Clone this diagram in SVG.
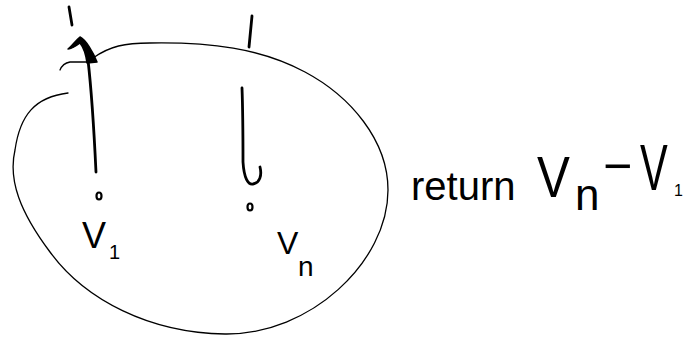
<svg xmlns="http://www.w3.org/2000/svg" width="692" height="339" viewBox="0 0 692 339">
<style>
.thin{fill:none;stroke:#000;stroke-width:1.3;stroke-linecap:round;stroke-linejoin:round}
.pen{fill:none;stroke:#000;stroke-width:2.8;stroke-linecap:round;stroke-linejoin:round}
.dot{fill:#fff;stroke:#000;stroke-width:2.2}
.t{font-family:"Liberation Sans","DejaVu Sans",sans-serif;fill:#000}
</style>
<rect width="692" height="339" fill="#fff"/>
<g id="region">
<path class="thin" d="M 93,58 C 110,46 125,43 150,43 C 210,42 260,48 305,72 C 350,96 388,140 388,190 C 388,262 310,335 225,334 C 150,333 85,300 50,252 C 20,212 8,180 15,150 C 20,115 35,97 68,93"/>
<path class="thin" d="M 60,70 C 62,65 65,63 70,62 L 88,62"/>
<path class="pen" d="M 69,7 L 72,25"/>
<path class="pen" d="M 252,16 L 249,47"/>
</g>
<g id="connectors">
<path class="pen" d="M 96,172 C 94,130 92,95 88,60"/>
<path d="M 80,37 C 86,40 93,52 97,62 L 87,63 C 86,55 84,48 80,43 C 76,46 72,49 68,49 C 72,46 76,40 80,37 Z" fill="#000" stroke="#000" stroke-width="1.5" stroke-linejoin="round"/>
<path class="pen" d="M 242,88 C 243,115 243,140 243,162 C 244,178 248,185 253,184 C 260,183 262,175 260,167"/>
</g>
<g id="v1">
<ellipse class="dot" cx="99" cy="196" rx="2.5" ry="3.5"/>
<text class="t" x="82" y="248" font-size="36">V</text>
<text class="t" x="109" y="259" font-size="20">1</text>
</g>
<g id="vn">
<ellipse class="dot" cx="250" cy="207" rx="2.5" ry="3.5"/>
<text class="t" x="277" y="254" font-size="32">V</text>
<text class="t" x="298" y="276" font-size="28">n</text>
</g>
<g id="result">
<text class="t" x="411" y="200" font-size="40">return</text>
<text class="t" transform="translate(537,197) scale(0.85,1)" font-size="58">V</text>
<text class="t" x="575" y="210" font-size="44">n</text>
<text class="t" x="603" y="183" font-size="50">−</text>
<text class="t" transform="translate(640,190) scale(0.65,1)" font-size="64">V</text>
<text class="t" x="674" y="196" font-size="16">1</text>
</g>
</svg>
